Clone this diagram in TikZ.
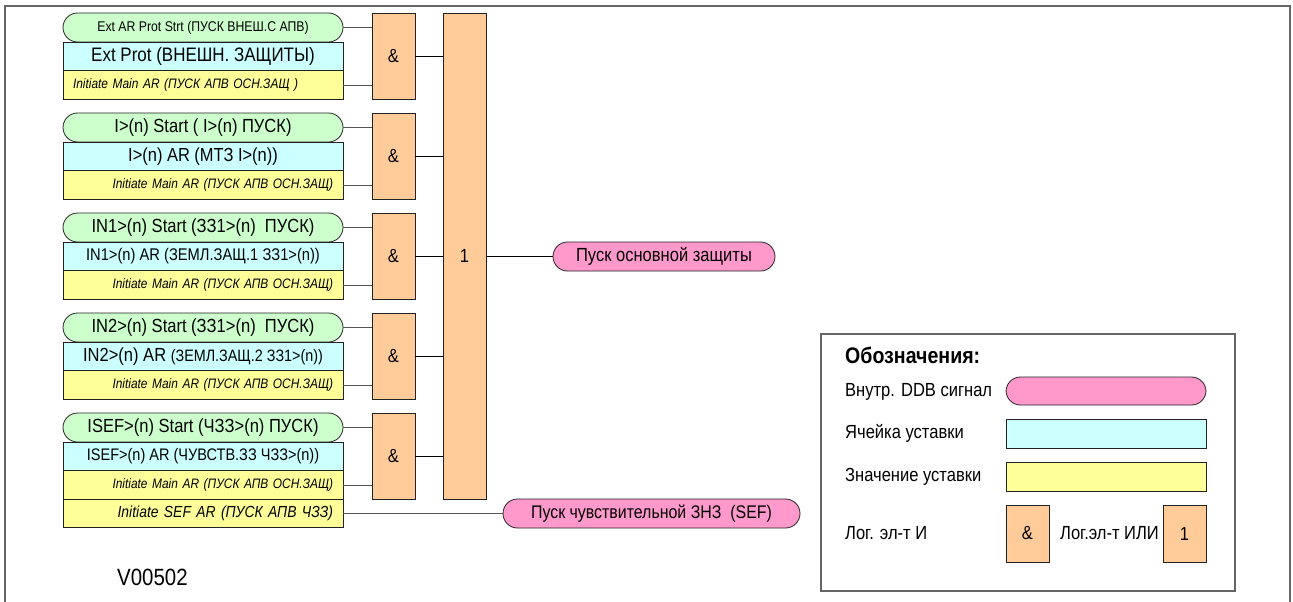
\documentclass[tikz,border=0pt]{standalone}
\usepackage{fontspec}
\setmainfont{Liberation Sans}[FakeStretch=0.87]
\newcommand{\setfs}[1]{\fontsize{#1}{#1}\selectfont}
\definecolor{sigGreen}{HTML}{CCFFCC}
\definecolor{cellCyan}{HTML}{CCFFFF}
\definecolor{valYellow}{HTML}{FFFF99}
\definecolor{gateOrange}{HTML}{FFCC99}
\definecolor{ddbPink}{HTML}{FF99CC}
\definecolor{boxLine}{HTML}{222222}
\definecolor{wireGray}{HTML}{555555}
\definecolor{frameGray}{HTML}{666666}
\begin{document}
\begin{tikzpicture}[x=1pt,y=-1pt,
  box/.style={draw=boxLine, line width=0.8pt, inner sep=0pt, outer sep=0pt,
    minimum width=280pt, anchor=center},
  startsig/.style={box, fill=sigGreen, rounded corners=14.5pt, minimum height=29pt, font=\setfs{19}},
  cell/.style={box, fill=cellCyan, minimum height=29pt},
  valcell/.style={box, fill=valYellow, minimum height=28.5pt, text width=260pt,
    align=right, font=\itshape\setfs{13.7}},
  gate/.style={draw=boxLine, line width=0.8pt, fill=gateOrange, inner sep=0pt,
    outer sep=0pt, minimum width=43pt, font=\setfs{19}},
  andgate/.style={gate, minimum height=86pt},
  ddb/.style={draw=boxLine, line width=0.8pt, fill=ddbPink, rounded corners=14.5pt,
    inner sep=0pt, outer sep=0pt, minimum height=29pt, font=\setfs{19}},
  wire/.style={draw=wireGray, line width=0.8pt},
  link/.style={draw=black, line width=0.8pt},
  legtext/.style={anchor=west, inner sep=0pt, font=\setfs{19}}
]
\useasboundingbox (0,0) rectangle (1293,602);

% outer frame
\draw[frameGray, line width=1.6pt] (5,606) -- (5,6) -- (1290,6) -- (1290,606);

% OR gate collecting all protection starts
\node[gate, minimum height=486pt] (orgate) at (464.5,256) {1};

% group 1: external protection
\node[startsig, font=\setfs{14.1}] (s1) at (203,27.5) {Ext AR Prot Strt (ПУСК ВНЕШ.С АПВ)};
\node[cell, font=\setfs{19.5}] (c1) at (203,56.5) {Ext Prot (ВНЕШН. ЗАЩИТЫ)};
\node[valcell, align=left] (v1) at (203,85) {Initiate Main AR (ПУСК АПВ ОСН.ЗАЩ )};
\node[andgate] (a1) at (393.5,56) {\&};

% group 2: overcurrent
\node[startsig] (s2) at (203,127.5) {I>(n) Start ( I>(n) ПУСК)};
\node[cell, font=\setfs{18.9}] (c2) at (203,156.5) {I>(n) AR (МТЗ I>(n))};
\node[valcell] (v2) at (203,185) {Initiate Main AR (ПУСК АПВ ОСН.ЗАЩ)};
\node[andgate] (a2) at (393.5,156) {\&};

% group 3: earth fault 1
\node[startsig] (s3) at (203,227.5) {IN1>(n) Start (ЗЗ1>(n)\ \ ПУСК)};
\node[cell, font=\setfs{16.9}] (c3) at (203,256.5) {IN1>(n) AR (ЗЕМЛ.ЗАЩ.1 ЗЗ1>(n))};
\node[valcell] (v3) at (203,285) {Initiate Main AR (ПУСК АПВ ОСН.ЗАЩ)};
\node[andgate] (a3) at (393.5,256) {\&};

% group 4: earth fault 2
\node[startsig] (s4) at (203,327.5) {IN2>(n) Start (ЗЗ1>(n)\ \ ПУСК)};
\node[cell, font=\setfs{19}] (c4) at (203,356.5) {IN2>(n) AR {\setfs{16.5}(ЗЕМЛ.ЗАЩ.2 ЗЗ1>(n))}};
\node[valcell] (v4) at (203,385) {Initiate Main AR (ПУСК АПВ ОСН.ЗАЩ)};
\node[andgate] (a4) at (393.5,356) {\&};

% group 5: sensitive earth fault
\node[startsig] (s5) at (203,427.5) {ISEF>(n) Start (ЧЗЗ>(n) ПУСК)};
\node[cell, font=\setfs{16.7}] (c5) at (203,456.5) {ISEF>(n) AR (ЧУВСТВ.ЗЗ ЧЗЗ>(n))};
\node[valcell] (v5) at (203,485) {Initiate Main AR (ПУСК АПВ ОСН.ЗАЩ)};
\node[andgate] (a5) at (393.5,456) {\&};
\node[valcell, font=\itshape\setfs{16}] (vsef) at (203,513.5) {Initiate SEF AR (ПУСК АПВ ЧЗЗ)};

% outputs
\node[ddb, minimum width=222pt] (mainstart) at (664,256.5) {Пуск основной защиты};
\node[ddb, minimum width=297pt, font=\setfs{18.3}] (sefstart) at (651.5,513.5) {Пуск чувствительной ЗНЗ\ \ (SEF)};

% connections
\foreach \g in {1,...,5}{
  \draw[wire] (s\g.east) -- (s\g.east -| a\g.west);
  \draw[wire] (v\g.east) -- (v\g.east -| a\g.west);
  \draw[link] (a\g.east) -- (a\g.east -| orgate.west);
}
\draw[link] (orgate.east |- mainstart.west) -- (mainstart.west);
\draw[wire] (vsef.east) -- (sefstart.west);

% drawing number
\node[anchor=west, inner sep=0pt, font=\setfs{23.5}] (vnum) at (117,577) {V00502};

% legend
\draw[frameGray, line width=1.4pt] (821,334) rectangle (1235,591);
\node[legtext, font=\bfseries\setfs{22.5}] (legtitle) at (845,355) {Обозначения:};
\node[legtext] (legddb) at (845,392) {Внутр. DDB сигнал};
\node[legtext] (legcell) at (845,433.5) {Ячейка уставки};
\node[legtext] (legval) at (845,477) {Значение уставки};
\node[legtext] (legand) at (845,533.5) {Лог. эл-т И};
\node[legtext] (legor) at (1060,533.5) {Лог.эл-т ИЛИ};
\node[ddb, minimum width=200pt, minimum height=28pt] (keyddb) at (1106,391) {};
\node[cell, minimum width=200pt] (keycell) at (1106,433.5) {};
\node[valcell, minimum width=200pt, text width=180pt] (keyval) at (1106,477) {};
\node[gate, minimum height=57pt] (keyand) at (1027.5,533.5) {\&};
\node[gate, minimum height=57pt] (keyor) at (1184.5,533.5) {1};
\end{tikzpicture}
\end{document}
